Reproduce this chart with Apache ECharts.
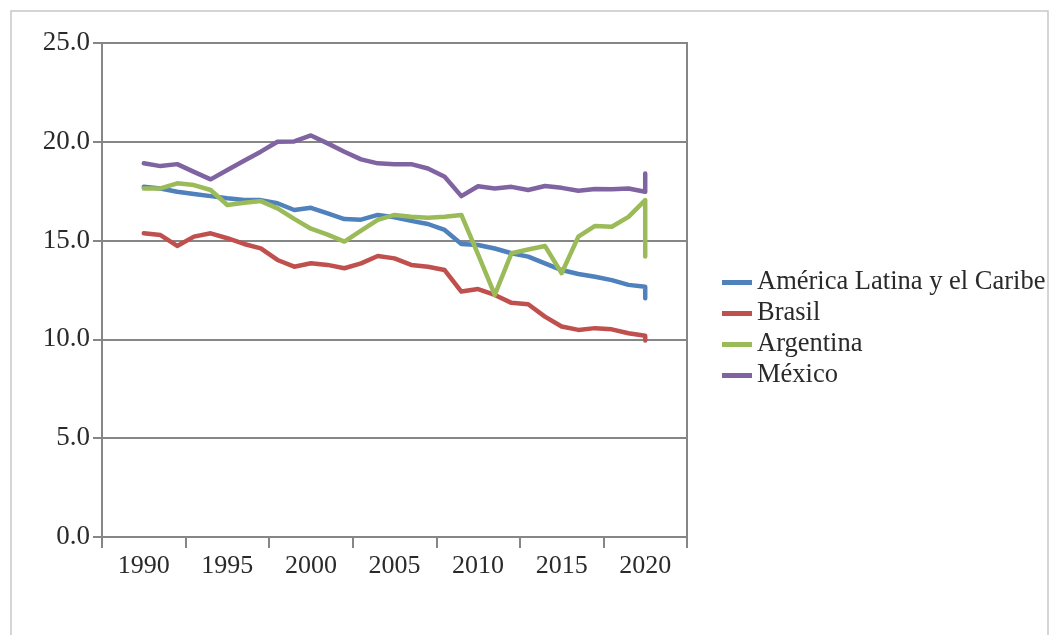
<!DOCTYPE html>
<html>
<head>
<meta charset="utf-8">
<script src="https://cdn.jsdelivr.net/npm/echarts@6/dist/echarts.min.js"></script>
<style>
html,body{margin:0;padding:0;background:#fff;}
#c{width:1058px;height:635px;}
</style>
</head>
<body>
<div id="c"></div>
<script>
// Axis categories (years on the axis)
const categories = [];
for (let y = 1988; y <= 2022; y++) categories.push(String(y));
// Years with data
const years = [1990,1991,1992,1993,1994,1995,1996,1997,1998,1999,2000,
  2001,2002,2003,2004,2005,2006,2007,2008,2009,2010,
  2011,2012,2013,2014,2015,2016,2017,2018,2019,2020];
const seriesNames = ['América Latina y el Caribe', 'Brasil', 'Argentina', 'México'];
const americaLatina = [17.72,17.64,17.47,17.36,17.25,17.14,17.05,17.05,16.89,16.55,16.66,
  16.38,16.09,16.06,16.3,16.18,16.0,15.84,15.54,14.83,14.78,
  14.6,14.36,14.19,13.85,13.51,13.31,13.17,13.0,12.76,12.67];
const brasil = [15.37,15.28,14.73,15.2,15.37,15.12,14.83,14.61,14.02,13.68,13.85,
  13.77,13.6,13.85,14.22,14.1,13.77,13.68,13.51,12.42,12.55,
  12.25,11.85,11.78,11.15,10.65,10.48,10.57,10.51,10.31,10.18];
const argentina = [17.64,17.64,17.9,17.81,17.56,16.8,16.92,17.0,16.63,16.1,15.6,
  15.3,14.95,15.5,16.05,16.3,16.21,16.16,16.21,16.3,14.3,
  12.25,14.36,14.55,14.73,13.35,15.2,15.74,15.7,16.2,17.05];
const mexico = [18.91,18.77,18.87,18.48,18.1,18.57,19.04,19.5,20.0,20.02,20.32,
  19.92,19.5,19.11,18.91,18.87,18.87,18.65,18.23,17.25,17.75,
  17.64,17.72,17.56,17.76,17.67,17.52,17.61,17.6,17.64,17.47];
// final extra point drawn at the 2020 position (vertical tail)
const tailValues = [12.08, 9.94, 14.19, 18.4];
const yTicks = [0, 5, 10, 15, 20, 25];

const colors = ['#4F81BD', '#C0504D', '#9BBB59', '#8064A2'];
const allValues = [americaLatina, brasil, argentina, mexico];

const FONT = '"Liberation Serif", "Times New Roman", serif';

const chart = echarts.init(document.getElementById('c'), null, {renderer: 'canvas'});
const series = seriesNames.map((name, k) => {
  const data = years.map((y, i) => [String(y), allValues[k][i]]);
  data.push([String(years[years.length - 1]), tailValues[k]]);
  return {
    name: name,
    type: 'line',
    data: data,
    showSymbol: false,
    symbol: 'none',
    lineStyle: {width: 4.5, color: colors[k], join: 'round', cap: 'round'},
    itemStyle: {color: colors[k]},
    emphasis: {disabled: true},
    animation: false,
    z: 3 + k
  };
});

chart.setOption({
  animation: false,
  color: colors,
  graphic: [{
    type: 'rect',
    shape: {x: 11, y: 11, width: 1037, height: 640},
    style: {fill: 'none', stroke: '#c8c8c8', lineWidth: 1.5},
    silent: true
  }],
  grid: {
    left: 102, right: 371, top: 43, bottom: 98,
    show: true, borderColor: '#868686', borderWidth: 2, backgroundColor: 'transparent'
  },
  legend: {
    orient: 'vertical',
    left: 717,
    top: 264,
    itemWidth: 30,
    itemHeight: 5,
    itemGap: 4,
    icon: 'rect',
    data: seriesNames,
    textStyle: {fontFamily: FONT, fontSize: 26.5, color: '#2a2a2a'}
  },
  xAxis: {
    type: 'category',
    data: categories,
    boundaryGap: true,
    axisLine: {show: true, lineStyle: {color: '#868686', width: 2}},
    axisTick: {
      show: true, length: 11, inside: false,
      interval: function (index) { return index % 5 === 0; },
      lineStyle: {color: '#868686', width: 2}
    },
    axisLabel: {
      interval: function (index) { return index % 5 === 2; },
      fontFamily: FONT, fontSize: 26, color: '#2a2a2a', margin: 16
    },
    splitLine: {show: false}
  },
  yAxis: {
    type: 'value',
    min: 0, max: 25, interval: 5,
    axisLine: {show: true, lineStyle: {color: '#868686', width: 2}},
    axisTick: {show: true, length: 9, lineStyle: {color: '#868686', width: 2}},
    axisLabel: {
      formatter: v => yTicks.includes(v) ? v.toFixed(1) : '',
      fontFamily: FONT, fontSize: 27, color: '#2a2a2a', margin: 12
    },
    splitLine: {show: true, lineStyle: {color: '#868686', width: 2}}
  },
  series: series
});
</script>
</body>
</html>
